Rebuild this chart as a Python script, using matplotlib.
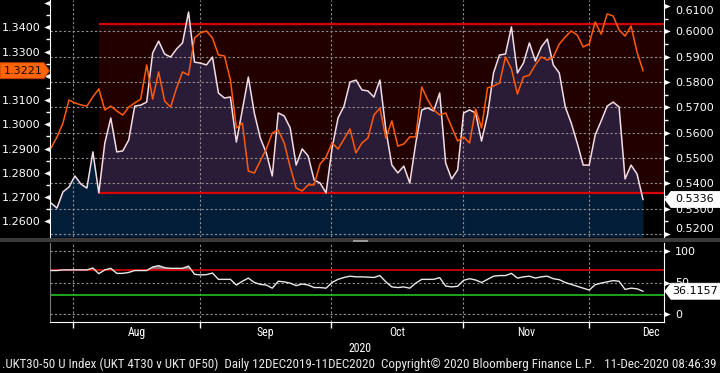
import numpy as np
import matplotlib
matplotlib.use('Agg')
import matplotlib.pyplot as plt
from matplotlib import font_manager
from matplotlib.patches import Polygon, Rectangle
from matplotlib.path import Path
from matplotlib.transforms import blended_transform_factory

# ---------------- data ----------------
orange_vals = [1.2902, 1.2948, 1.3005, 1.3100, 1.3088, 1.3080, 1.3075, 1.3113, 1.3146, 1.3059,
               1.3075, 1.3055, 1.3038, 1.3071, 1.3088, 1.3104, 1.3245, 1.3104, 1.3216, 1.3096,
               1.3071, 1.3150, 1.3216, 1.3203, 1.3356, 1.3377, 1.3385, 1.3356, 1.3286, 1.3282,
               1.3183, 1.2985, 1.3005, 1.2807, 1.2799, 1.2849, 1.2898, 1.2964, 1.2976, 1.2923,
               1.2824, 1.2737, 1.2725, 1.2750, 1.2750, 1.2836, 1.2865, 1.2923, 1.2898, 1.2939,
               1.2981, 1.2882, 1.2923, 1.2943, 1.3038, 1.3067, 1.2943, 1.3014, 1.2910, 1.2919,
               1.2948, 1.2948, 1.3154, 1.3100, 1.3059, 1.3038, 1.3047, 1.2989, 1.2931, 1.2948,
               1.2923, 1.3063, 1.2985, 1.3150, 1.3158, 1.3170, 1.3278, 1.3228, 1.3125, 1.3195,
               1.3203, 1.3245, 1.3278, 1.3265, 1.3278, 1.3331, 1.3360, 1.3385, 1.3368, 1.3319,
               1.3331, 1.3422, 1.3372, 1.3455, 1.3447, 1.3389, 1.3364, 1.3405, 1.3298, 1.3221]

white_vals = [0.5322, 0.5302, 0.5366, 0.5385, 0.5429, 0.5397, 0.5381, 0.5524, 0.5362, 0.5559,
              0.5658, 0.5524, 0.5528, 0.5571, 0.5705, 0.5709, 0.5721, 0.5915, 0.5962, 0.5911,
              0.5899, 0.5931, 0.5955, 0.6077, 0.5879, 0.5875, 0.5868, 0.5899, 0.5757, 0.5737,
              0.5741, 0.5563, 0.5690, 0.5820, 0.5678, 0.5579, 0.5520, 0.5429, 0.5678, 0.5666,
              0.5619, 0.5472, 0.5536, 0.5508, 0.5413, 0.5401, 0.5362, 0.5539, 0.5658, 0.5705,
              0.5800, 0.5808, 0.5769, 0.5765, 0.5741, 0.5808, 0.5611, 0.5472, 0.5441, 0.5468,
              0.5401, 0.5559, 0.5690, 0.5698, 0.5686, 0.5757, 0.5480, 0.5417, 0.5453, 0.5678,
              0.5690, 0.5678, 0.5567, 0.5670, 0.5836, 0.5907, 0.5911, 0.6018, 0.5836, 0.5875,
              0.5955, 0.5883, 0.5939, 0.5970, 0.5868, 0.5836, 0.5702, 0.5638, 0.5559, 0.5472,
              0.5472, 0.5591, 0.5646, 0.5705, 0.5721, 0.5702, 0.5417, 0.5472, 0.5437, 0.5336]

rsi_vals = [69, 69, 70, 70, 70, 70, 70, 73, 64, 70,
            72.5, 64.5, 64.5, 66, 69, 69, 69, 74.6, 76.7, 73.5,
            72.5, 72.5, 72.5, 76, 63, 62, 62.5, 65, 55, 55,
            55, 46, 52, 57, 50, 47, 46, 41, 52, 51,
            49, 45, 47.6, 46, 42, 42, 41, 50, 55, 58,
            60, 59, 59, 58.5, 58, 61, 51, 43, 42, 43,
            41, 49, 55, 55, 55, 57.7, 44.4, 43, 44, 53.5,
            56, 54, 50, 55, 60, 61, 61, 64.5, 57, 59,
            60, 57, 59, 60, 56, 54.5, 50, 47, 44, 41,
            38, 46.5, 49, 51, 53, 52, 39, 41, 40, 36.1157]

month_labels = ['Aug', 'Sep', 'Oct', 'Nov', 'Dec']
month_bounds = [3.7, 24.9, 46.8, 68.9, 90.0]
month_label_pos = [14.3, 35.85, 57.85, 79.45, 100.3]

left_ticks = [1.26, 1.27, 1.28, 1.29, 1.30, 1.31, 1.32, 1.33, 1.34, 1.35]
left_hidden = [1.32, 1.35]          # labels covered by the value box / clipped
right_ticks = [0.52, 0.53, 0.54, 0.55, 0.56, 0.57, 0.58, 0.59, 0.60, 0.61]
rsi_ticks = [0, 50, 100]
band_start = 8
band_lo, band_hi = 0.5362, 0.6028
rsi_hi, rsi_lo = 70, 30

footer = (".UKT30-50 U Index (UKT 4T30 v UKT 0F50)  Daily 12DEC2019-11DEC2020  "
          "Copyright\u00a9 2020 Bloomberg Finance L.P.   11-Dec-2020 08:46:39")

# ---------------- fonts ----------------
names = {f.name for f in font_manager.fontManager.ttflist}
cond = None
for n in ['Liberation Sans Narrow', 'DejaVu Sans Condensed', 'Roboto Condensed', 'Open Sans Condensed']:
    if n in names:
        cond = n
        break
cond_fp = dict(family='DejaVu Sans', stretch='condensed') if cond is None else dict(family=cond)

plt.rcParams['font.family'] = ['DejaVu Sans']

W, H = 720, 373
fig = plt.figure(figsize=(W / 100, H / 100), dpi=100, facecolor='black')


def fr(x0, y0, x1, y1):
    return [x0 / W, 1 - y1 / H, (x1 - x0) / W, (y1 - y0) / H]


ax = fig.add_axes(fr(50, 0, 664, 237))
axr = ax.twinx()
axl = fig.add_axes(fr(50, 243, 664, 322))

x = np.arange(len(white_vals))
white = np.array(white_vals)
orange = np.array(orange_vals)
rsi = np.array(rsi_vals)

xlim = (-0.167, 102.51)
for a in (ax, axr, axl):
    a.set_xlim(*xlim)
axr.set_ylim(0.51877, 0.61245)
ax.set_ylim(1.25352, 1.35126)
axl.set_ylim(-12.7, 112.7)

ax.set_zorder(axr.get_zorder() + 1)
ax.patch.set_visible(False)
axr.patch.set_visible(True)
axr.patch.set_facecolor('black')
axl.set_facecolor('black')

grid_kw = dict(color='#8f8f8f', lw=0.8, linestyle=(0, (2, 2)))

# band + fills (right axis)
frac0 = (band_start - xlim[0]) / (xlim[1] - xlim[0])
axr.axhspan(band_lo, band_hi, xmin=frac0, xmax=1, color='#230000', lw=0, zorder=0.5)
ybot = axr.get_ylim()[0]
axr.fill_between(x, white, ybot, color='#021d38', lw=0, zorder=1)
xs = x[band_start:]
ws = white[band_start:]
axr.fill_between(xs, ws, band_lo, where=ws >= band_lo, interpolate=True,
                 color='#2a1b37', lw=0, zorder=1.2)
for v in right_ticks[:-1]:
    axr.axhline(v, zorder=1.5, **grid_kw)
for b in month_bounds:
    axr.axvline(b, zorder=1.5, **grid_kw)
axr.hlines([band_lo, band_hi], band_start, xlim[1], colors='#d80000', lw=1.6, zorder=2)
axr.plot(x, white, color='#f2dde6', lw=1.1, zorder=3)
ax.plot(x, orange, color='#ff5a0a', lw=1.1, zorder=3)

# spines / ticks top
for a in (ax, axr):
    for s in ('top', 'bottom'):
        a.spines[s].set_visible(False)
    a.tick_params(axis='x', bottom=False, labelbottom=False, top=False)
ax.spines['left'].set_color('white')
ax.spines['right'].set_visible(False)
axr.spines['right'].set_color('white')
axr.spines['left'].set_visible(False)

ax.set_yticks(left_ticks)
ax.set_yticklabels(['' if any(abs(v - h) < 1e-9 for h in left_hidden) else '%.4f' % v
                    for v in left_ticks])
ax.set_yticks([v + 0.005 for v in left_ticks[:-1]], minor=True)
ax.tick_params(axis='y', which='major', colors='white', labelcolor='white', length=0,
               labelsize=8, pad=7)
ax.tick_params(axis='y', which='minor', colors='white', length=3, width=1)
axr.set_yticks(right_ticks)
axr.set_yticklabels(['%.4f' % v for v in right_ticks])
axr.set_yticks([v + 0.005 for v in right_ticks[:-1]], minor=True)
axr.tick_params(axis='y', which='major', colors='white', labelcolor='white', length=0,
                labelsize=8, pad=8)
axr.tick_params(axis='y', which='minor', colors='white', length=3, width=1)
rl = axr.get_yticklabels()
rl[-1].set_va('top')
rl[0].set_va('bottom')

# triangle tick markers (base on the spine, tip outward)
tri_r = Path([(0, -0.42), (0, 0.42), (1, 0), (0, -0.42)])
tri_l = Path([(0, -0.42), (0, 0.42), (-1, 0), (0, -0.42)])
ax.plot([0] * len(left_ticks), left_ticks, linestyle='none', marker=tri_l, ms=9,
        color='white', mew=0, clip_on=False, zorder=5,
        transform=blended_transform_factory(ax.transAxes, ax.transData))
axr.plot([1] * len(right_ticks), right_ticks, linestyle='none', marker=tri_r, ms=9,
         color='white', mew=0, clip_on=False, zorder=5,
         transform=blended_transform_factory(axr.transAxes, axr.transData))

# ---------------- lower panel ----------------
for v in rsi_ticks:
    axl.axhline(v, zorder=1, **grid_kw)
for b in month_bounds:
    axl.axvline(b, zorder=1, **grid_kw)
axl.fill_between(x, rsi, rsi_hi, where=rsi >= rsi_hi, interpolate=True,
                 color='#8a6a72', lw=0, zorder=1.5)
axl.axhline(rsi_hi, color='#e00000', lw=1.2, zorder=2)
axl.axhline(rsi_lo, color='#22c022', lw=1.2, zorder=2)
axl.plot(x, rsi, color='#e8e8e8', lw=1.0, zorder=3)

axl.spines['top'].set_visible(False)
axl.spines['left'].set_color('#7a7a7a')
axl.spines['bottom'].set_color('white')
axl.spines['right'].set_color('white')
axl.yaxis.tick_right()
axl.set_yticks(rsi_ticks)
axl.set_yticklabels([str(v) for v in rsi_ticks])
axl.tick_params(axis='y', colors='white', labelcolor='white', length=0,
                labelsize=8, pad=8)
axl.plot([1] * len(rsi_ticks), rsi_ticks, linestyle='none', marker=tri_r, ms=9,
         color='white', mew=0, clip_on=False, zorder=5,
         transform=blended_transform_factory(axl.transAxes, axl.transData))
axl.set_xticks(month_bounds)
axl.set_xticklabels([])
axl.set_xticks(month_label_pos, minor=True)
axl.set_xticklabels(month_labels, minor=True, color='white', fontsize=8.5, **cond_fp)
axl.tick_params(axis='x', which='major', colors='white', length=4, width=1)
axl.tick_params(axis='x', which='minor', length=0, pad=3)

fig.text(360 / W, 1 - 349 / H, '2020', ha='center', va='center', color='white',
         fontsize=8.5, **cond_fp)
ft = fig.text(2 / W, 1 - 364 / H, footer, ha='left', va='center', color='#e8e8e8',
              fontsize=8, **cond_fp)

# separator bar
fig.add_artist(Rectangle((0, 1 - 242 / H), 1, 4.5 / H, transform=fig.transFigure,
                         fc='#3a3a3a', ec='none'))
for yy in (239.6, 241.2):
    fig.add_artist(plt.Line2D([353 / W, 367 / W], [1 - yy / H] * 2, transform=fig.transFigure,
                              color='#9a9a9a', lw=0.7))


# ---------------- value boxes ----------------
def ypx(a, v):
    return a.transData.transform((0, v))[1]


def box(pts, fc, ec, text, tx, ty, tc):
    p = Polygon(np.array(pts) / [W, H], closed=True, transform=fig.transFigure,
                fc=fc, ec=ec, lw=0.6, zorder=10)
    fig.add_artist(p)
    fig.text(tx / W, ty / H, text, ha='center', va='center', color=tc, fontsize=8,
             zorder=11)


yc = ypx(ax, orange[-1])
box([(0, yc - 8), (44, yc - 8), (49.5, yc), (44, yc + 8), (0, yc + 8)],
    '#ff6408', '#c04000', '%.4f' % orange[-1], 23, yc, '#1a0800')
yc = ypx(axr, white[-1])
box([(665, yc), (671, yc + 8), (720, yc + 8), (720, yc - 8), (671, yc - 8)],
    'white', 'white', '%.4f' % white[-1], 695, yc, 'black')
yc = ypx(axl, rsi[-1])
box([(665, yc), (671, yc + 8), (720, yc + 8), (720, yc - 8), (671, yc - 8)],
    'white', 'white', '%.4f' % rsi[-1], 695, yc, 'black')

# fit footer width to ~716 px
fig.canvas.draw()
r = fig.canvas.get_renderer()
w = ft.get_window_extent(r).width
if w > 0:
    ft.set_fontsize(8 * 714 / w)

fig.savefig('out.png', dpi=100, facecolor='black')
